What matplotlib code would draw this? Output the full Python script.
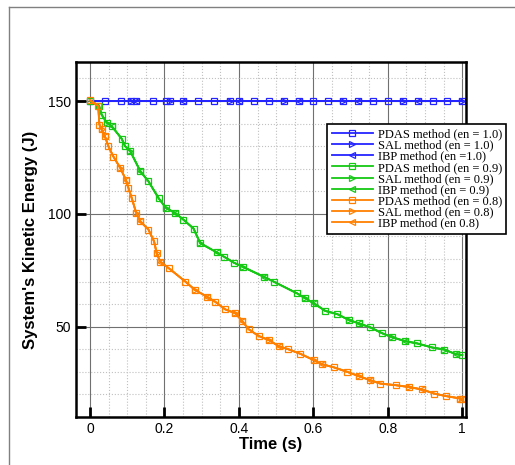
import matplotlib.pyplot as plt
from matplotlib.lines import Line2D

# time / energy
time_10 = [0, 0.04, 0.083, 0.11, 0.124, 0.169, 0.204, 0.215, 0.25, 0.29, 0.333,
           0.377, 0.4, 0.44, 0.48, 0.52, 0.56, 0.6, 0.64, 0.68, 0.72, 0.76,
           0.8, 0.84, 0.88, 0.92, 0.96, 1.0]
energy_10 = [150] * len(time_10)

time_09 = [0, 0.024, 0.031, 0.045, 0.058, 0.085, 0.094, 0.108, 0.135, 0.157,
           0.184, 0.204, 0.229, 0.251, 0.278, 0.296, 0.341, 0.359, 0.386,
           0.412, 0.466, 0.493, 0.556, 0.578, 0.601, 0.632, 0.664, 0.695,
           0.722, 0.753, 0.785, 0.812, 0.847, 0.879, 0.919, 0.951, 0.982, 1.0]
energy_09 = [150, 148, 144, 140.4, 138.9, 133.3, 130, 127.8, 118.9, 114.4,
             107, 102.6, 100.4, 97.4, 93.5, 87, 82.9, 81.1, 78.4,
             76.4, 72.2, 70, 64.8, 62.6, 60.4, 57, 55.6, 53,
             51.5, 49.7, 47.1, 45.3, 43.6, 42.6, 40.8, 39.9, 37.9, 37.4]

time_08 = [0, 0.022, 0.025, 0.031, 0.04, 0.049, 0.063, 0.081, 0.096, 0.103,
           0.112, 0.124, 0.135, 0.157, 0.172, 0.179, 0.188, 0.211, 0.256,
           0.282, 0.314, 0.336, 0.363, 0.39, 0.408, 0.426, 0.453, 0.48,
           0.507, 0.533, 0.565, 0.601, 0.623, 0.655, 0.691, 0.722, 0.753,
           0.78, 0.821, 0.856, 0.892, 0.924, 0.955, 0.995, 1.0]
energy_08 = [150.4, 147.8, 139.6, 137.4, 134.4, 130, 125.3, 120.4, 115.2, 111.5,
             107, 100.4, 96.7, 93, 87.8, 82.6, 78.9, 76, 70,
             66.3, 63.3, 61.1, 57.7, 56, 52.7, 48.9, 45.9, 44.1,
             41.4, 40, 38, 35.2, 33.4, 32, 30, 28.1, 26.3,
             24.8, 24.1, 23.3, 22.2, 20.4, 19.3, 18.2, 18]

methods = ['PDAS method', 'SAL method', 'IBP method']
markers = ['s', '>', '<']
cases = [
    (time_10, energy_10, '#2424ff', ['(en = 1.0)', '(en = 1.0)', '(en =1.0)']),
    (time_09, energy_09, '#14c814', ['(en = 0.9)', '(en = 0.9)', '(en = 0.9)']),
    (time_08, energy_08, '#ff8000', ['(en = 0.8)', '(en = 0.8)', '(en 0.8)']),
]

fig = plt.figure(figsize=(5.15, 4.65), dpi=100)
ax = fig.add_axes([0.1476, 0.1032, 0.7573, 0.7635])

for t, e, col, tags in cases:
    for k, (m, mk, tag) in enumerate(zip(methods, markers, tags)):
        every = 1 if k == 0 else (k + 2, 4)
        ax.plot(t, e, color=col, lw=1.3, marker=mk, markersize=5,
                markerfacecolor='none', markeredgecolor=col, markeredgewidth=0.9,
                markevery=every, label=f'{m} {tag}')

ax.set_xlim(-0.0377, 1.010)
ax.set_ylim(10, 167.3)
ax.set_xticks([0, 0.2, 0.4, 0.6, 0.8, 1.0])
ax.set_xticklabels(['0', '0.2', '0.4', '0.6', '0.8', '1'])
ax.set_yticks([50, 100, 150])
ax.set_xticks([i * 0.05 for i in range(21)], minor=True)
ax.set_yticks(list(range(20, 170, 10)), minor=True)
ax.grid(which='major', color='#707070', lw=0.8, ls='-')
ax.grid(which='minor', color='#c0c0c0', lw=0.8, ls=':')
ax.set_axisbelow(True)
ax.tick_params(which='major', direction='in', length=7, width=2,
               labelsize=10, top=False, right=False)
ax.tick_params(which='minor', length=0)
for lbl in ax.get_xticklabels() + ax.get_yticklabels():
    lbl.set_family(['Liberation Sans'])
for s in ax.spines.values():
    s.set_linewidth(1.8)

ax.set_xlabel('Time (s)', fontsize=12, fontweight='bold', family=['Liberation Sans'], labelpad=1)
ax.set_ylabel("System's Kinetic Energy (J)", fontsize=12, fontweight='bold',
              family=['Liberation Sans'], labelpad=7)

leg = ax.legend(loc='upper left', bbox_to_anchor=(0.644, 0.825), frameon=True,
                fancybox=False, framealpha=1, edgecolor='black',
                prop={'family': 'Liberation Serif', 'size': 9},
                labelspacing=-0.07, handlelength=3.3, handletextpad=0.4,
                borderpad=0.35, borderaxespad=0)
leg.get_frame().set_linewidth(1.2)

# page frame (top and left only)
fig.add_artist(Line2D([9 / 515, 1], [1 - 7 / 465, 1 - 7 / 465], color='#808080', lw=1))
fig.add_artist(Line2D([9 / 515, 9 / 515], [0, 1 - 7 / 465], color='#808080', lw=1))

fig.savefig('out.png', dpi=100)
